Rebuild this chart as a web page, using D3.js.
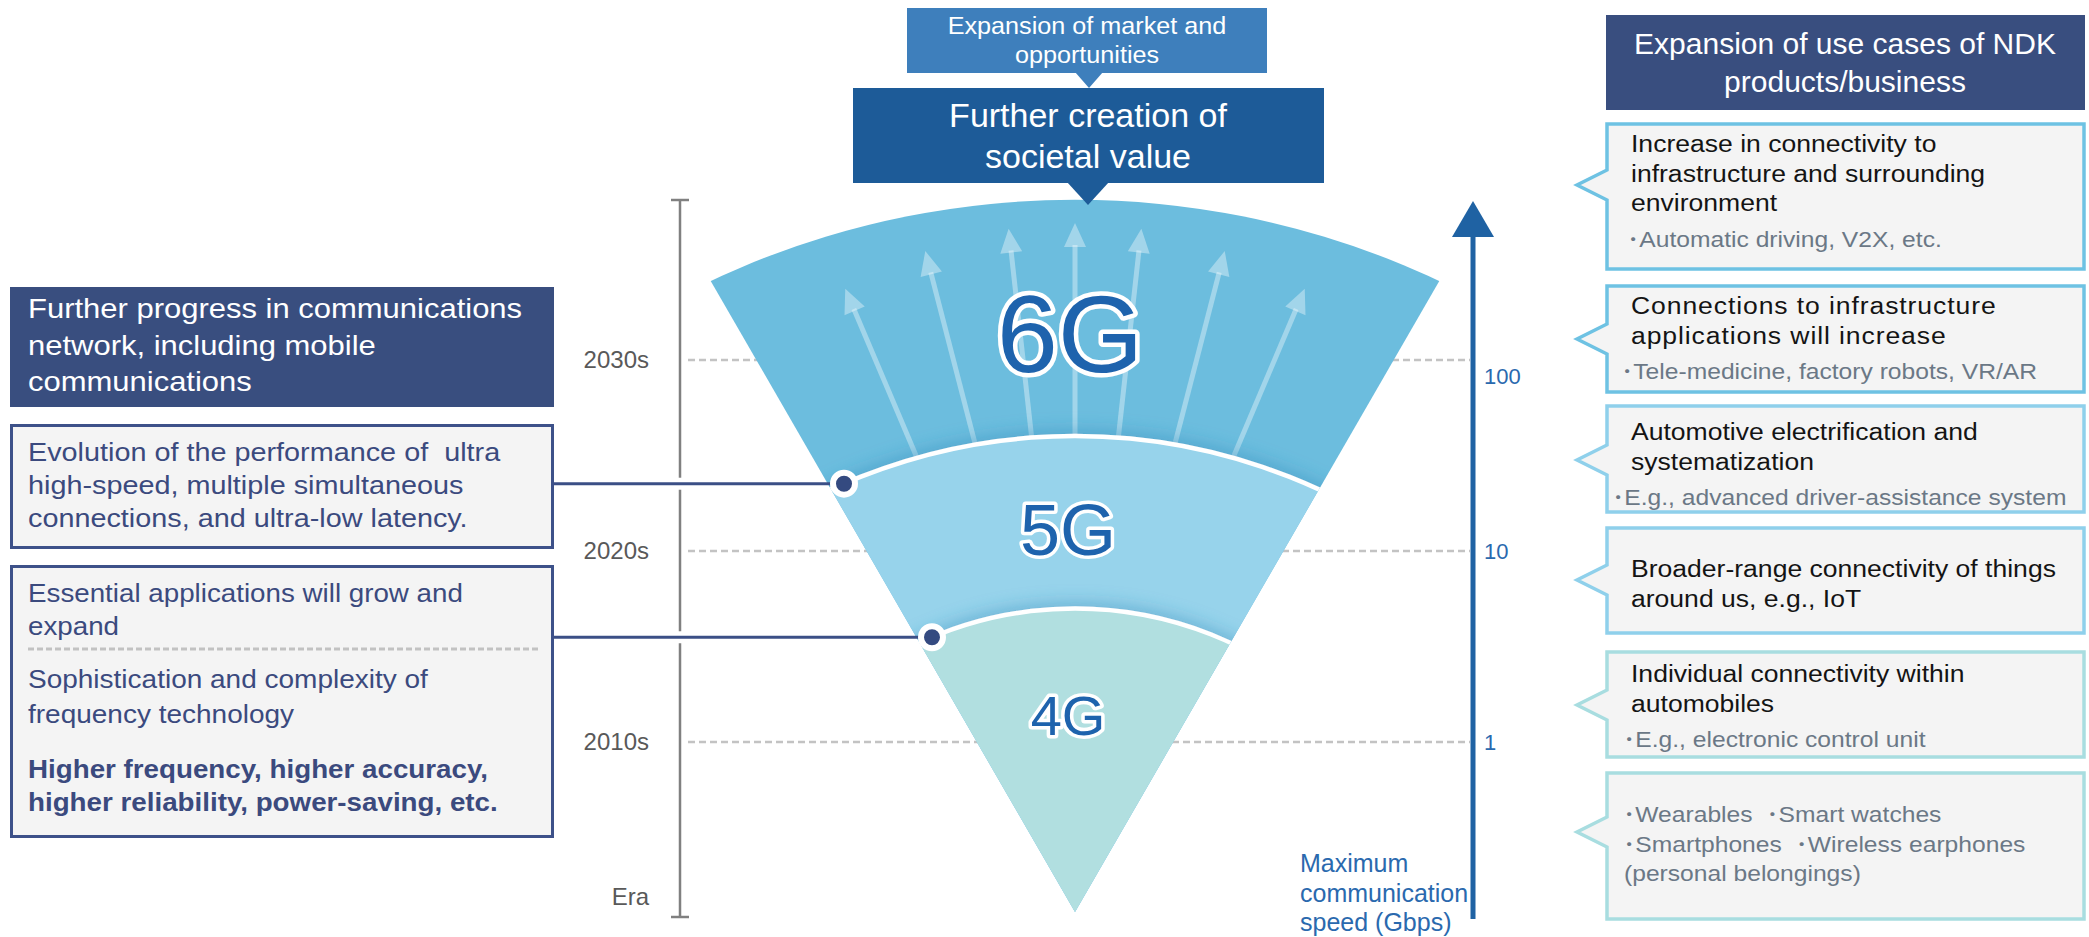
<!DOCTYPE html>
<html><head><meta charset="utf-8">
<script src="https://cdn.jsdelivr.net/npm/d3@7"></script>
<style>html,body{margin:0;padding:0;background:#fff;}svg{display:block;}svg text{white-space:pre;}</style>
</head><body>
<script>
// ---------------- DATA ----------------
const eraYears = [2010, 2020, 2030];
const eraLabels = ["2010s", "2020s", "2030s"];
const eraAxisLabel = "Era";
const speedTicks = [1, 10, 100];
const speedTickLabels = ["1", "10", "100"];
const speedAxisTitle = ["Maximum", "communication", "speed (Gbps)"];
const generations = ["4G", "5G", "6G"];
const genPeakSpeed = [5, 40, 690];          // Gbps reached at the top of each band
const arrowAngles = [-23, -14.5, -6.3, 0, 6.3, 14.5, 23];
const arrowReach = [588, 598, 605, 607, 605, 598, 588];
const topSmallBox = ["Expansion of market and", "opportunities"];
const topBigBox = ["Further creation of", "societal value"];
const leftHeader = ["Further progress in communications", "network, including mobile", "communications"];
const leftBox2 = ["Evolution of the performance of  ultra", "high-speed, multiple simultaneous", "connections, and ultra-low latency."];
const leftBox3a = ["Essential applications will grow and", "expand"];
const leftBox3b = ["Sophistication and complexity of", "frequency technology"];
const leftBox3c = ["Higher frequency, higher accuracy,", "higher reliability, power-saving, etc."];
const rightHeader = ["Expansion of use cases of NDK", "products/business"];
const useCaseTitles = [
  ["Increase in connectivity to", "infrastructure and surrounding", "environment"],
  ["Connections to infrastructure", "applications will increase"],
  ["Automotive electrification and", "systematization"],
  ["Broader-range connectivity of things", "around us, e.g., IoT"],
  ["Individual connectivity within", "automobiles"],
  []
];
const useCaseExamples = [
  ["･Automatic driving, V2X, etc."],
  ["･Tele-medicine, factory robots, VR/AR"],
  ["･E.g., advanced driver-assistance system"],
  [],
  ["･E.g., electronic control unit"],
  ["･Wearables  ･Smart watches", "･Smartphones  ･Wireless earphones", "(personal belongings)"]
];

// ---------------- LAYOUT ----------------
const W = 2089, H = 937;
const FONT = "'Liberation Sans', Arial, 'Noto Sans CJK JP', sans-serif";
const svg = d3.select("body").append("svg").attr("width", W).attr("height", H)
  .style("font-family", FONT);
const defs = svg.append("defs");

const ySpeed = d3.scaleLog().domain([1, 100]).range([742, 360]);
const yEra = d3.scaleLinear().domain([2010, 2030]).range([742, 360]);

function txt(g, x, y, s, o) {
  o = o || {};
  const t = g.append("text")
    .attr("transform", `translate(${x},${y}) scale(${o.sx || 1},1)`)
    .attr("text-anchor", o.anchor || "start")
    .attr("font-size", o.size || 20)
    .attr("fill", o.fill || "#000")
    .attr("font-weight", o.weight || "normal");
  if (o.ls) t.attr("letter-spacing", o.ls);
  t.text(s);
  return t;
}

// ---------- dashed guide lines ----------
const gGrid = svg.append("g");
eraYears.forEach((yr) => {
  gGrid.append("line").attr("x1", 688).attr("x2", 1470)
    .attr("y1", yEra(yr)).attr("y2", yEra(yr))
    .attr("stroke", "#c3c3c3").attr("stroke-width", 2.5).attr("stroke-dasharray", "7 4");
});

// ---------- era axis ----------
const gEra = svg.append("g");
gEra.append("line").attr("x1", 680).attr("x2", 680).attr("y1", 200).attr("y2", 917)
  .attr("stroke", "#808080").attr("stroke-width", 2.5);
[200, 917].forEach(y => gEra.append("line").attr("x1", 671).attr("x2", 689).attr("y1", y).attr("y2", y)
  .attr("stroke", "#808080").attr("stroke-width", 2.5));
eraYears.forEach((yr, i) => txt(gEra, 649, yEra(yr) + 8, eraLabels[i], {size: 24, anchor: "end", fill: "#595959"}));
txt(gEra, 649, 905, eraAxisLabel, {size: 24, anchor: "end", fill: "#595959"});

// ---------- speed axis ----------
const gSp = svg.append("g");
gSp.append("line").attr("x1", 1473).attr("x2", 1473).attr("y1", 232).attr("y2", 919)
  .attr("stroke", "#1f62a3").attr("stroke-width", 5);
gSp.append("path").attr("d", "M1473,201 L1494,237 L1452,237 Z").attr("fill", "#1f62a3");
speedTicks.forEach((v, i) => {
  const off = v === 100 ? 24 : 8;
  txt(gSp, 1484, ySpeed(v) + off, speedTickLabels[i], {size: 22, fill: "#2a69ae"});
});
speedAxisTitle.forEach((s, i) => txt(gSp, 1300, 872 + i * 29.5, s, {size: 25, fill: "#2a69ae"}));

// ---------- fan ----------
const apex = {x: 1075, y: 912};
const tanT = Math.tan(30 * Math.PI / 180);
defs.append("clipPath").attr("id", "wedge").append("path")
  .attr("d", `M${apex.x},${apex.y} L${apex.x - (apex.y - 100) * tanT},100 L${apex.x + (apex.y - 100) * tanT},100 Z`);
const f = defs.append("filter").attr("id", "sh").attr("x", "-10%").attr("y", "-10%").attr("width", "120%").attr("height", "120%");
f.append("feDropShadow").attr("dx", 0).attr("dy", -3).attr("stdDeviation", 9)
  .attr("flood-color", "#2f86b8").attr("flood-opacity", 0.45);

const bandR = {"6G": 859, "5G": 583, "4G": 370};
const bandFill = {"6G": "#6cbdde", "5G": "#97d3eb", "4G": "#b1dfe0"};
const gFan = svg.append("g").attr("clip-path", "url(#wedge)");
const order = [2, 1, 0];
const O = {x: 1075, y: 830};
order.forEach(i => {
  const g = generations[i];
  const peak = ySpeed(genPeakSpeed[i]);
  const R = bandR[g];
  const c = gFan.append("circle").attr("cx", apex.x).attr("cy", peak + R).attr("r", R)
    .attr("fill", bandFill[g]);
  if (g !== "6G") c.attr("stroke", "#fff").attr("stroke-width", 4.5).attr("filter", "url(#sh)");
  if (g === "6G") {
    arrowAngles.forEach((a, k) => {
      const r = a * Math.PI / 180;
      const ux = Math.sin(r), uy = -Math.cos(r);
      const rt = arrowReach[k], r0 = 370, r1 = rt - 22;
      gFan.append("line")
        .attr("x1", O.x + ux * r0).attr("y1", O.y + uy * r0)
        .attr("x2", O.x + ux * r1).attr("y2", O.y + uy * r1)
        .attr("stroke", "#fff").attr("stroke-opacity", 0.37).attr("stroke-width", 5);
      const tx = O.x + ux * rt, ty = O.y + uy * rt;
      const bx = O.x + ux * (rt - 24), by = O.y + uy * (rt - 24);
      const px = -uy, py = ux;
      gFan.append("path")
        .attr("d", `M${tx},${ty} L${bx + px * 11},${by + py * 11} L${bx - px * 11},${by - py * 11} Z`)
        .attr("fill", "#fff").attr("fill-opacity", 0.37);
    });
  }
});

// generation labels
const genLabel = {"6G": {x: 1070, y: 372, s: 110}, "5G": {x: 1068, y: 555, s: 72}, "4G": {x: 1068, y: 735, s: 56}};
generations.forEach(g => {
  const L = genLabel[g];
  svg.append("text").attr("x", L.x).attr("y", L.y).attr("text-anchor", "middle")
    .attr("font-size", L.s).attr("fill", "#1e63ad")
    .attr("stroke", "#fff").attr("stroke-width", g === "6G" ? 9 : 7).attr("stroke-linejoin", "round")
    .attr("paint-order", "stroke").text(g);
});

// ---------- top boxes ----------
const gTop = svg.append("g");
gTop.append("rect").attr("x", 907).attr("y", 8).attr("width", 360).attr("height", 65).attr("fill", "#3e7fbc");
gTop.append("path").attr("d", "M1075,72 L1103,72 L1089,88 Z").attr("fill", "#3e7fbc");
topSmallBox.forEach((s, i) => txt(gTop, 1087, 34 + i * 29, s, {size: 24, sx: 1.05, anchor: "middle", fill: "#fff"}));
gTop.append("rect").attr("x", 853).attr("y", 88).attr("width", 471).attr("height", 95).attr("fill", "#1d5b98");
gTop.append("path").attr("d", "M1067,182 L1109,182 L1088,205 Z").attr("fill", "#1d5b98");
topBigBox.forEach((s, i) => txt(gTop, 1088, 127 + i * 41, s, {size: 34, anchor: "middle", fill: "#fff"}));

// ---------- left panel ----------
const gL = svg.append("g");
const NAVY = "#3b4a7e";
gL.append("rect").attr("x", 10).attr("y", 287).attr("width", 544).attr("height", 120).attr("fill", "#394e7f");
leftHeader.forEach((s, i) => txt(gL, 28, 318 + i * 36.5, s, {size: 28, sx: 1.107, fill: "#fff"}));
gL.append("rect").attr("x", 11.5).attr("y", 425.5).attr("width", 541).attr("height", 122)
  .attr("fill", "#f4f4f4").attr("stroke", "#3d5189").attr("stroke-width", 3);
leftBox2.forEach((s, i) => txt(gL, 28, 461 + i * 33, s, {size: 25.5, sx: 1.13, fill: NAVY}));
gL.append("rect").attr("x", 11.5).attr("y", 566.5).attr("width", 541).attr("height", 270)
  .attr("fill", "#f4f4f4").attr("stroke", "#3d5189").attr("stroke-width", 3);
leftBox3a.forEach((s, i) => txt(gL, 28, 602 + i * 33, s, {size: 25, sx: 1.11, fill: NAVY}));
gL.append("line").attr("x1", 28).attr("x2", 540).attr("y1", 649).attr("y2", 649)
  .attr("stroke", "#c2c2c2").attr("stroke-width", 3).attr("stroke-dasharray", "6 3");
leftBox3b.forEach((s, i) => txt(gL, 28, 688 + i * 34.5, s, {size: 25, sx: 1.12, fill: NAVY}));
leftBox3c.forEach((s, i) => txt(gL, 28, 778 + i * 32.5, s, {size: 25, sx: 1.11, fill: NAVY, weight: "bold"}));

// connectors and dots
const dots = [{band: "5G", dx: -231}, {band: "4G", dx: -143}];
dots.forEach(d => {
  const gi = generations.indexOf(d.band);
  const R = bandR[d.band];
  const cy = ySpeed(genPeakSpeed[gi]) + R;
  const px = apex.x + d.dx;
  const py = cy - Math.sqrt(R * R - d.dx * d.dx);
  svg.append("line").attr("x1", 668).attr("x2", 692).attr("y1", py).attr("y2", py)
    .attr("stroke", "#fff").attr("stroke-width", 12);
  svg.append("line").attr("x1", 554).attr("x2", px).attr("y1", py).attr("y2", py)
    .attr("stroke", "#3b4f86").attr("stroke-width", 3);
  svg.append("circle").attr("cx", px).attr("cy", py).attr("r", 11)
    .attr("fill", "#344a80").attr("stroke", "#fff").attr("stroke-width", 6);
});

// ---------- right panel ----------
const gR = svg.append("g");
gR.append("rect").attr("x", 1606).attr("y", 15).attr("width", 479).attr("height", 95).attr("fill", "#394e7f");
rightHeader.forEach((s, i) => txt(gR, 1845, 54 + i * 38, s, {size: 30, anchor: "middle", fill: "#fff"}));

const boxes = [
  {y0: 124, y1: 269, py: 185, col: "#6ec2e3", base: 152, ex: 1627},
  {y0: 286, y1: 392, py: 339, col: "#6ec2e3", base: 314, ls: 0.8, ex: 1621},
  {y0: 406, y1: 512, py: 460, col: "#8fd0eb", base: 440, ex: 1612},
  {y0: 528, y1: 633, py: 580, col: "#8fd0eb", base: 577, ex: 1622},
  {y0: 652, y1: 757, py: 705, col: "#a8dde0", base: 682, ex: 1623},
  {y0: 773, y1: 919, py: 832, col: "#a8dde0", base: 822, ex: 1623}
];
const bx0 = 1607, bx1 = 2084;
boxes.forEach((b, i) => {
  const d = `M${bx0},${b.y0} L${bx1},${b.y0} L${bx1},${b.y1} L${bx0},${b.y1} L${bx0},${b.py + 15} L${bx0 - 30},${b.py} L${bx0},${b.py - 15} Z`;
  gR.append("path").attr("d", d).attr("fill", "#f4f4f4").attr("stroke", b.col).attr("stroke-width", 3.5)
    .attr("stroke-linejoin", "miter");
  let y = b.base;
  useCaseTitles[i].forEach(s => {
    txt(gR, 1631, y, s, {size: 23.5, sx: 1.13, fill: "#141414", ls: b.ls});
    y += 29.5;
  });
  if (useCaseTitles[i].length) y += 6;
  useCaseExamples[i].forEach(s => {
    const x = s.startsWith("(") ? b.ex + 1 : b.ex;
    txt(gR, x, y, s, {size: 22, sx: 1.12, fill: "#6b7886"});
    y += 29.5;
  });
});
</script>
</body></html>
